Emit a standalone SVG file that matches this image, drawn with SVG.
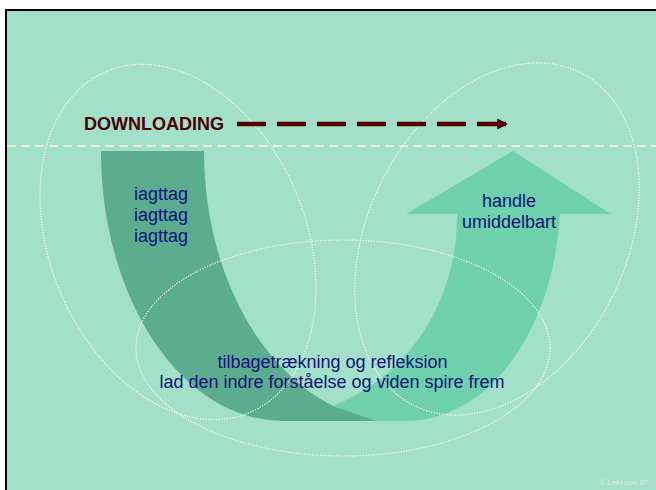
<svg xmlns="http://www.w3.org/2000/svg" width="656" height="490" viewBox="0 0 656 490">
  <defs>
    <style>
      .lbl { font-family: "Liberation Sans", Arial, sans-serif; font-size: 18px; fill: #12127A; text-anchor: middle; }
      .ell { fill: none; stroke: #FFFFFF; stroke-width: 1.2; stroke-dasharray: 1.2 1.5; }
    </style>
    <marker id="head" viewBox="0 0 10 10" refX="10" refY="5" markerWidth="2.4" markerHeight="2.6" markerUnits="strokeWidth" orient="auto">
      <path d="M0,0 L10,5 L0,10 Z" fill="#550000"/>
    </marker>
  </defs>

  <rect x="0" y="0" width="656" height="490" fill="#FFFFFF"/>
  <rect x="6" y="10" width="660" height="490" fill="#A3E0CA" stroke="#000000" stroke-width="2"/>

  <g id="observe-band">
    <path d="M101,151 H204 A196,271 0 0 0 333,406 L377.5,421 H283 A182,270 0 0 1 101,151 Z" fill="#5CAD90"/>
  </g>
  <g id="act-arrow">
    <path d="M333,406 C410,375 458,300 457,214 L406,214 L513,151 L611,214 L560,214 C553,330 490,421 405,421 L377,421 Z" fill="#6FD0AC"/>
  </g>

  <line x1="7" y1="146" x2="656" y2="146" stroke="#E8F2D2" stroke-width="2" stroke-dasharray="9 5"/>

  <g id="ellipses">
    <ellipse class="ell" cx="178" cy="242" rx="128" ry="185" transform="rotate(-22.7 178 242)"/>
    <ellipse class="ell" cx="497" cy="239" rx="129" ry="186" transform="rotate(26.6 497 239)"/>
    <ellipse class="ell" cx="343" cy="348" rx="207" ry="108"/>
  </g>

  <g id="downloading">
    <text x="84" y="130" font-family="'Liberation Sans', Arial, sans-serif" font-size="18" font-weight="bold" fill="#4A0000">DOWNLOADING</text>
  </g>

  <g id="connectors">
    <line x1="237" y1="124" x2="508" y2="124" stroke="#550000" stroke-width="4.5" stroke-dasharray="29 11" marker-end="url(#head)"/>
  </g>

  <g id="observe-text">
    <text class="lbl" x="161" y="200">iagttag</text>
    <text class="lbl" x="161" y="221">iagttag</text>
    <text class="lbl" x="161" y="242">iagttag</text>
  </g>

  <g id="act-text">
    <text class="lbl" x="509" y="207">handle</text>
    <text class="lbl" x="509" y="228">umiddelbart</text>
  </g>

  <g id="reflect-text">
    <text class="lbl" x="332.5" y="368">tilbagetrækning og refleksion</text>
    <text class="lbl" x="332" y="388">lad den indre forståelse og viden spire frem</text>
  </g>

  <text x="648" y="485" font-family="'Liberation Sans', Arial, sans-serif" font-size="7.3" fill="#DDF2E8" text-anchor="end">© LmH nov. 07</text>
</svg>
